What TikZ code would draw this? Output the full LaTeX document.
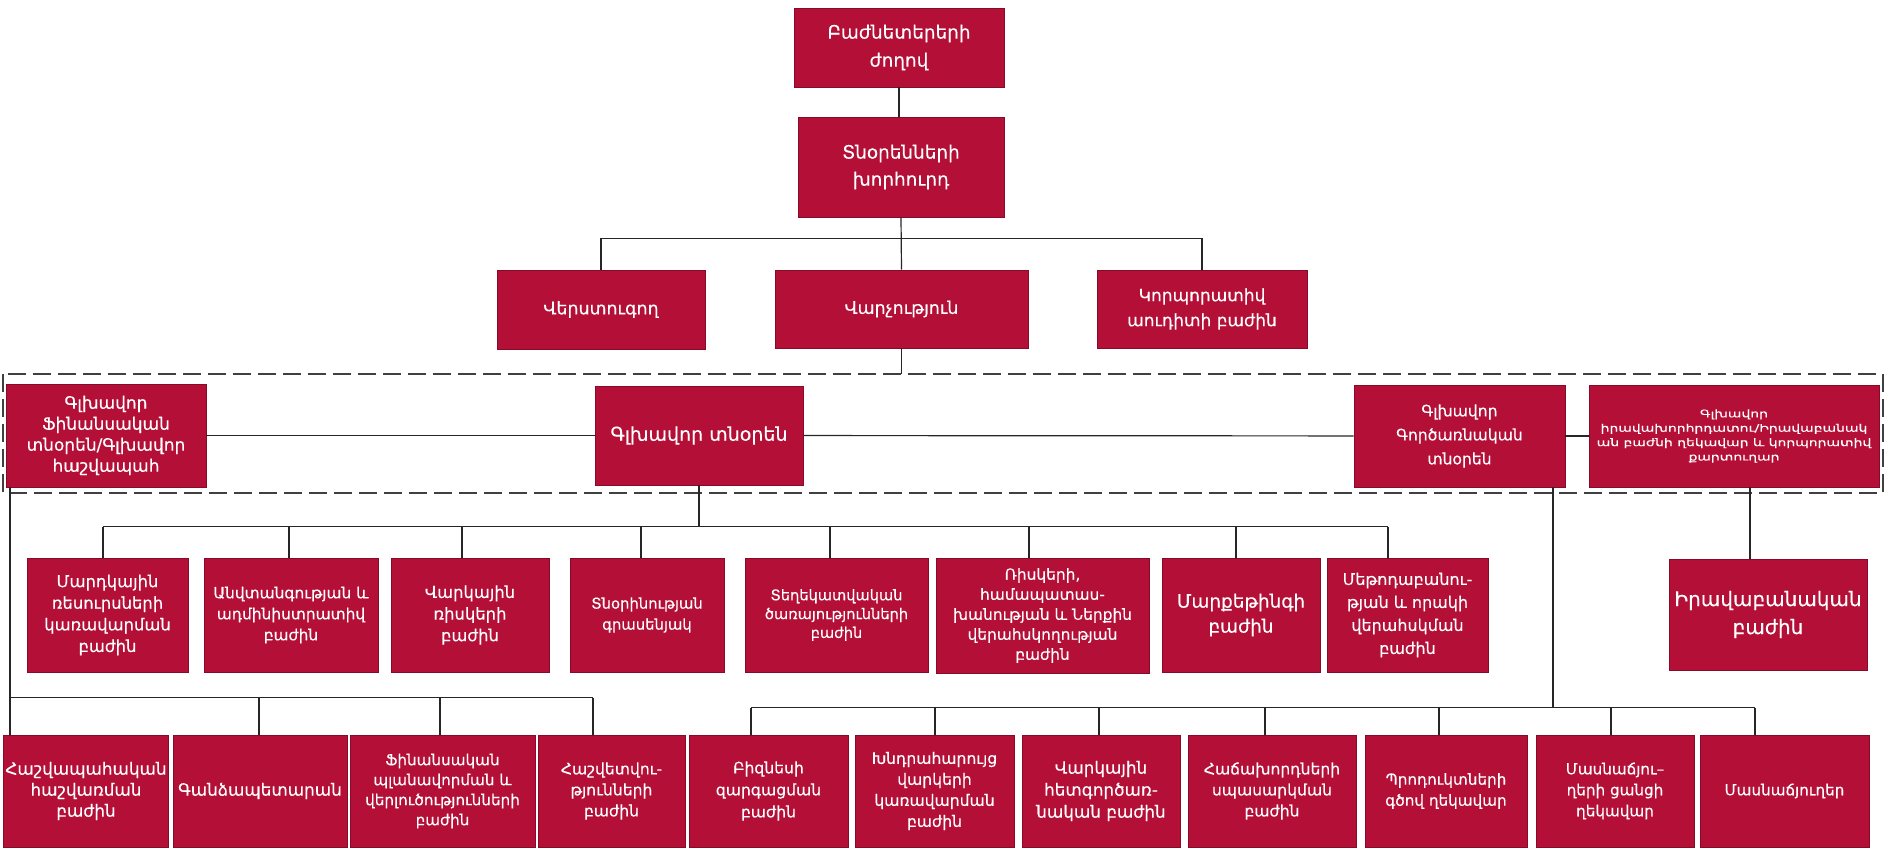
\documentclass[tikz,border=0pt]{standalone}
\usepackage{fontspec}
\setmainfont{DejaVu Sans}[FakeBold=0.3]
\newfontfamily\wideface{DejaVu Sans}[FakeStretch=1.34,FakeBold=0.3]
\usepackage{xcolor}
\usepackage{tikz}
\usetikzlibrary{calc}
\definecolor{unitred}{RGB}{180,15,55}

\begin{document}
\begin{tikzpicture}[x=0.5pt,y=-0.5pt,
		unit/.style={fill=unitred,draw=unitred!75!black,line width=0.4pt,text=white,align=center,inner sep=1pt},
		sz/.style 2 args={minimum width=#1*0.5pt,minimum height=#2*0.5pt},
		fs/.style 2 args={font=\fontsize{#1}{#2}\selectfont},
		wide/.style={font=\wideface\fontsize{5.2}{7.2}\selectfont},
		link/.style={draw=black!85,line width=0.6pt},
		frame/.style={draw=black!75,line width=0.9pt,dash pattern=on 9pt off 3.5pt}]
	\useasboundingbox (0,0) rectangle (1887,850);
	\draw[frame] (3,374) rectangle (1883,493);
	\node[unit,sz={210}{79},fs={9.2}{14}] (share) at (899,47.5) {Բաժնետերերի\\ժողով};
	\node[unit,sz={206}{100},fs={9.2}{13.5}] (board) at (901,167) {Տնօրենների\\խորհուրդ};
	\node[unit,sz={208}{79},fs={8.7}{12.5}] (auditor) at (601,309.5) {Վերստուգող};
	\node[unit,sz={253}{78},fs={8.7}{12.5}] (mgmt) at (901.5,309) {Վարչություն};
	\node[unit,sz={210}{78},fs={8.5}{12.5}] (caudit) at (1202,309) {Կորպորատիվ\\աուդիտի բաժին};
	\node[unit,sz={200}{103},fs={8.5}{10.5}] (cfo) at (106,435.5) {Գլխավոր\\Ֆինանսական\\տնօրեն/Գլխավոր\\հաշվապահ};
	\node[unit,sz={208}{99},fs={9.5}{10}] (ceo) at (699,435.5) {Գլխավոր տնօրեն};
	\node[unit,sz={211}{102},fs={7.8}{12}] (coo) at (1459.5,436) {Գլխավոր\\Գործառնական\\տնօրեն};
	\node[unit,sz={290}{102},wide] (counsel) at (1734,436) {Գլխավոր\\իրավախորհրդատու/Իրավաբանակ\\ան բաժնի ղեկավար և կորպորատիվ\\քարտուղար};
	\node[unit,sz={161}{114},fs={8.2}{10.8}] (m1) at (107.5,615) {Մարդկային\\ռեսուրսների\\կառավարման\\բաժին};
	\node[unit,sz={174}{114},fs={7.7}{10.5}] (m2) at (291,615) {Անվտանգության և\\ադմինիստրատիվ\\բաժին};
	\node[unit,sz={158}{114},fs={8.2}{10.8}] (m3) at (470,615) {Վարկային\\ռիսկերի\\բաժին};
	\node[unit,sz={154}{114},fs={7.4}{10.5}] (m4) at (647,615) {Տնօրինության\\գրասենյակ};
	\node[unit,sz={183}{114},fs={7.3}{9.4}] (m5) at (836.5,615) {Տեղեկատվական\\ծառայությունների\\բաժին};
	\node[unit,sz={213}{115},fs={7.7}{10}] (m6) at (1042.5,615.5) {Ռիսկերի,\\համապատաս-\\խանության և Ներքին\\վերահսկողության\\բաժին};
	\node[unit,sz={158}{114},fs={9.2}{12.5}] (m7) at (1241,615) {Մարքեթինգի\\բաժին};
	\node[unit,sz={161}{114},fs={8}{11.5}] (m8) at (1407.5,615) {Մեթոդաբանու-\\թյան և որակի\\վերահսկման\\բաժին};
	\node[unit,sz={198}{111},fs={10}{14}] (legal) at (1768,614.5) {Իրավաբանական\\բաժին};
	\node[unit,sz={162}{112},fs={8.4}{10.5}] (b1) at (86,791) {Հաշվապահական\\հաշվառման\\բաժին};
	\node[unit,sz={174}{112},fs={8.4}{10.5}] (b2) at (260,791) {Գանձապետարան};
	\node[unit,sz={185}{112},fs={7.6}{10}] (b3) at (442.5,791) {Ֆինանսական\\պլանավորման և\\վերլուծությունների\\բաժին};
	\node[unit,sz={147}{112},fs={7.8}{10.5}] (b4) at (611.5,791) {Հաշվետվու-\\թյունների\\բաժին};
	\node[unit,sz={159}{112},fs={7.8}{11}] (b5) at (768.5,791) {Բիզնեսի\\զարգացման\\բաժին};
	\node[unit,sz={159}{112},fs={7.8}{10.5}] (b6) at (934.5,791) {Խնդրահարույց\\վարկերի\\կառավարման\\բաժին};
	\node[unit,sz={158}{112},fs={8.4}{11}] (b7) at (1101,791) {Վարկային\\հետգործառ-\\նական բաժին};
	\node[unit,sz={168}{112},fs={7.8}{10.5}] (b8) at (1272,791) {Հաճախորդների\\սպասարկման\\բաժին};
	\node[unit,sz={162}{112},fs={7.6}{10.5}] (b9) at (1446,791) {Պրոդուկտների\\գծով ղեկավար};
	\node[unit,sz={158}{112},fs={7.6}{10.5}] (b10) at (1615,791) {Մասնաճյու–\\ղերի ցանցի\\ղեկավար};
	\node[unit,sz={169}{112},fs={7.6}{10.5}] (b11) at (1784.5,791) {Մասնաճյուղեր};
	\draw[link] (share.south) -- (share.south |- board.north);
	\draw[link] (board.south) -- (mgmt.north);
	\draw[link] (auditor.north) -- ++(0,-31) -| (caudit.north);
	\draw[link] (mgmt.south) -- ++(0,26);
	\draw[link] (cfo) -- (ceo);
	\draw[link] (ceo) -- (coo);
	\draw[link] (coo) -- (counsel);
	\draw[link] (ceo.south) -- ++(0,41.5);
	\draw[link] ($(m1.north)+(-4.5,-31)$) -- ($(m8.north)+(-19.5,-31)$);
	\foreach \n/\dx in {m1/-4.5,m2/-2,m3/-8,m4/-6,m5/-6.5,m6/-13.5,m7/-5,m8/-19.5}
		\draw[link] ($(\n.north)+(\dx,0)$) -- ++(0,-31);
	\draw[link] ($(cfo.south)+(-96,0)$) -- ($(b1.north)+(-76,0)$);
	\draw[link] ($(b1.north)+(-76,-37)$) -- ($(b4.north)+(-18.5,-37)$);
	\foreach \n/\dx in {b2/-1,b3/-2.5,b4/-18.5}
		\draw[link] ($(\n.north)+(\dx,0)$) -- ++(0,-37);
	\draw[link] ($(coo.south)+(93.5,0)$) -- ++(0,221);
	\draw[link] ($(b5.north)+(-17.5,-27)$) -- ($(b11.north)+(-29.5,-27)$);
	\foreach \n/\dx in {b5/-17.5,b6/0.5,b7/-2,b8/-7,b9/-7,b10/-4,b11/-29.5}
		\draw[link] ($(\n.north)+(\dx,0)$) -- ++(0,-27);
	\draw[link] ($(counsel.south)+(16,0)$) -- ($(legal.north)+(-18,0)$);
\end{tikzpicture}
\end{document}
